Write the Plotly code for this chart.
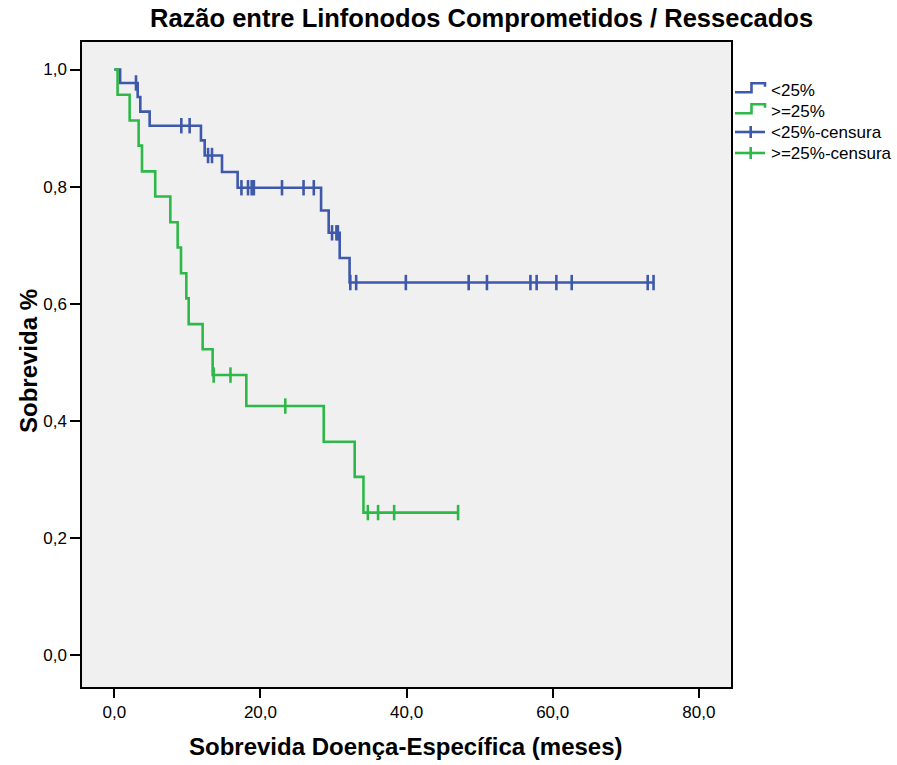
import numpy as np
import plotly.graph_objects as go

# ---- data ----
blue_name = "<25%"
green_name = ">=25%"
blue_times = [0, 0.8, 3.2, 3.56, 4.84, 11.86, 12.37, 14.74, 16.88, 28.3, 29.34, 30.85, 32.2]
blue_surv = [1.0, 0.977, 0.953, 0.928, 0.904, 0.879, 0.853, 0.825, 0.798, 0.759, 0.721, 0.678, 0.636]
blue_end = 73.9
blue_censor = [2.97, 9.17, 10.31, 12.83, 13.37, 17.4, 18.3, 18.8, 19.1, 22.95, 25.9, 27.3,
               29.8, 30.4, 30.6, 32.3, 33.1, 39.9, 48.5, 51.0, 56.95, 57.8, 60.5, 62.6, 73.0, 73.8]

green_times = [0, 0.45, 2.1, 3.33, 3.79, 5.6, 7.67, 8.67, 9.13, 9.86, 10.18, 12.09, 13.46, 18.07, 28.66, 32.9, 34.1]
green_surv = [1.0, 0.957, 0.913, 0.870, 0.826, 0.783, 0.739, 0.696, 0.652, 0.609, 0.565, 0.522, 0.478, 0.425, 0.364, 0.304, 0.243]
green_end = 47.1
green_censor = [13.6, 15.9, 23.4, 34.7, 36.1, 38.3, 47.05]

x_ticks = [0, 20, 40, 60, 80]
x_ticklabels = ["0,0", "20,0", "40,0", "60,0", "80,0"]
y_ticks = [0, 0.2, 0.4, 0.6, 0.8, 1.0]
y_ticklabels = ["0,0", "0,2", "0,4", "0,6", "0,8", "1,0"]

BLUE = "#3E58AC"
GREEN = "#2EB848"
FONT = "Arial, Liberation Sans, sans-serif"


def step_value(times, surv, t):
    idx = np.searchsorted(np.array(times), t, side="right") - 1
    return [surv[i] for i in idx]


fig = go.Figure()

for times, surv, end, cens, col in [
    (blue_times, blue_surv, blue_end, blue_censor, BLUE),
    (green_times, green_surv, green_end, green_censor, GREEN),
]:
    xs = list(times) + [end]
    ys = list(surv) + [surv[-1]]
    fig.add_trace(go.Scatter(x=xs, y=ys, mode="lines", line=dict(color=col, width=2.6, shape="hv"),
                             showlegend=False, hoverinfo="skip"))
    fig.add_trace(go.Scatter(x=cens, y=step_value(times, surv, cens), mode="markers",
                             marker=dict(symbol="line-ns-open", size=11, color=col,
                                         line=dict(color=col, width=2.6)),
                             showlegend=False, hoverinfo="skip"))

# plot area in page pixels (body margin removed via post_script)
L, R, T, B = 82, 731, 42, 687
W, H = 897, 765


def px(x):
    return (x - L) / (R - L)


def py(y):
    return (B - y) / (B - T)


shapes = []
annotations = []
legend_rows = [(blue_name, BLUE, "step"), (green_name, GREEN, "step"),
               (blue_name + "-censura", BLUE, "cross"), (green_name + "-censura", GREEN, "cross")]
row_y = [91, 112, 132, 153]
for (label, col, kind), yc in zip(legend_rows, row_y):
    if kind == "step":
        path = "M {} {} L {} {} L {} {} L {} {} L {} {}".format(
            px(735), py(yc + 1.3), px(751.5), py(yc + 1.3), px(751.5), py(yc - 7.7),
            px(765), py(yc - 7.7), px(765), py(yc - 4.3))
        shapes.append(dict(type="path", path=path, xref="paper", yref="paper",
                           line=dict(color=col, width=2.6)))
    else:
        shapes.append(dict(type="line", x0=px(735), x1=px(765), y0=py(yc), y1=py(yc),
                           xref="paper", yref="paper", line=dict(color=col, width=2.6)))
        shapes.append(dict(type="line", x0=px(750.7), x1=px(750.7), y0=py(yc - 6), y1=py(yc + 6),
                           xref="paper", yref="paper", line=dict(color=col, width=2.6)))
    annotations.append(dict(x=px(769), y=py(yc), xref="paper", yref="paper", text=label,
                            showarrow=False, xanchor="left", yanchor="middle",
                            font=dict(family=FONT, size=17, color="black")))

annotations.append(dict(x=px(481), y=py(18), xref="paper", yref="paper",
                        text="<b>Razão entre Linfonodos Comprometidos / Ressecados</b>",
                        showarrow=False, xanchor="center", yanchor="middle",
                        font=dict(family=FONT, size=25.5, color="black")))
annotations.append(dict(x=px(406), y=py(746), xref="paper", yref="paper",
                        text="<b>Sobrevida Doença-Específica (meses)</b>",
                        showarrow=False, xanchor="center", yanchor="middle",
                        font=dict(family=FONT, size=24, color="black")))
annotations.append(dict(x=px(28), y=py(361), xref="paper", yref="paper",
                        text="<b>Sobrevida %</b>", textangle=-90,
                        showarrow=False, xanchor="center", yanchor="middle",
                        font=dict(family=FONT, size=24, color="black")))

fig.update_layout(
    width=W, height=H,
    margin=dict(l=L, r=W - R, t=T, b=H - B, pad=0),
    paper_bgcolor="white",
    plot_bgcolor="#F0F0F0",
    font=dict(family=FONT, size=17, color="black"),
    shapes=shapes,
    annotations=annotations,
    showlegend=False,
)
fig.update_xaxes(range=[-4.42, 84.4], tickvals=x_ticks, ticktext=x_ticklabels,
                 showgrid=False, zeroline=False, showline=True, linecolor="black", linewidth=1.5,
                 mirror=True, ticks="outside", ticklen=9, tickwidth=1.5, tickcolor="black",
                 tickfont=dict(family=FONT, size=17))
fig.update_yaxes(range=[-0.055, 1.047], tickvals=y_ticks, ticktext=y_ticklabels,
                 showgrid=False, zeroline=False, showline=True, linecolor="black", linewidth=1.5,
                 mirror=True, ticks="outside", ticklen=10, tickwidth=1.5, tickcolor="black",
                 tickfont=dict(family=FONT, size=17))

fig.write_html("out.html", config={"displayModeBar": False},
               post_script="document.body.style.margin='0';document.body.style.overflow='hidden';")
